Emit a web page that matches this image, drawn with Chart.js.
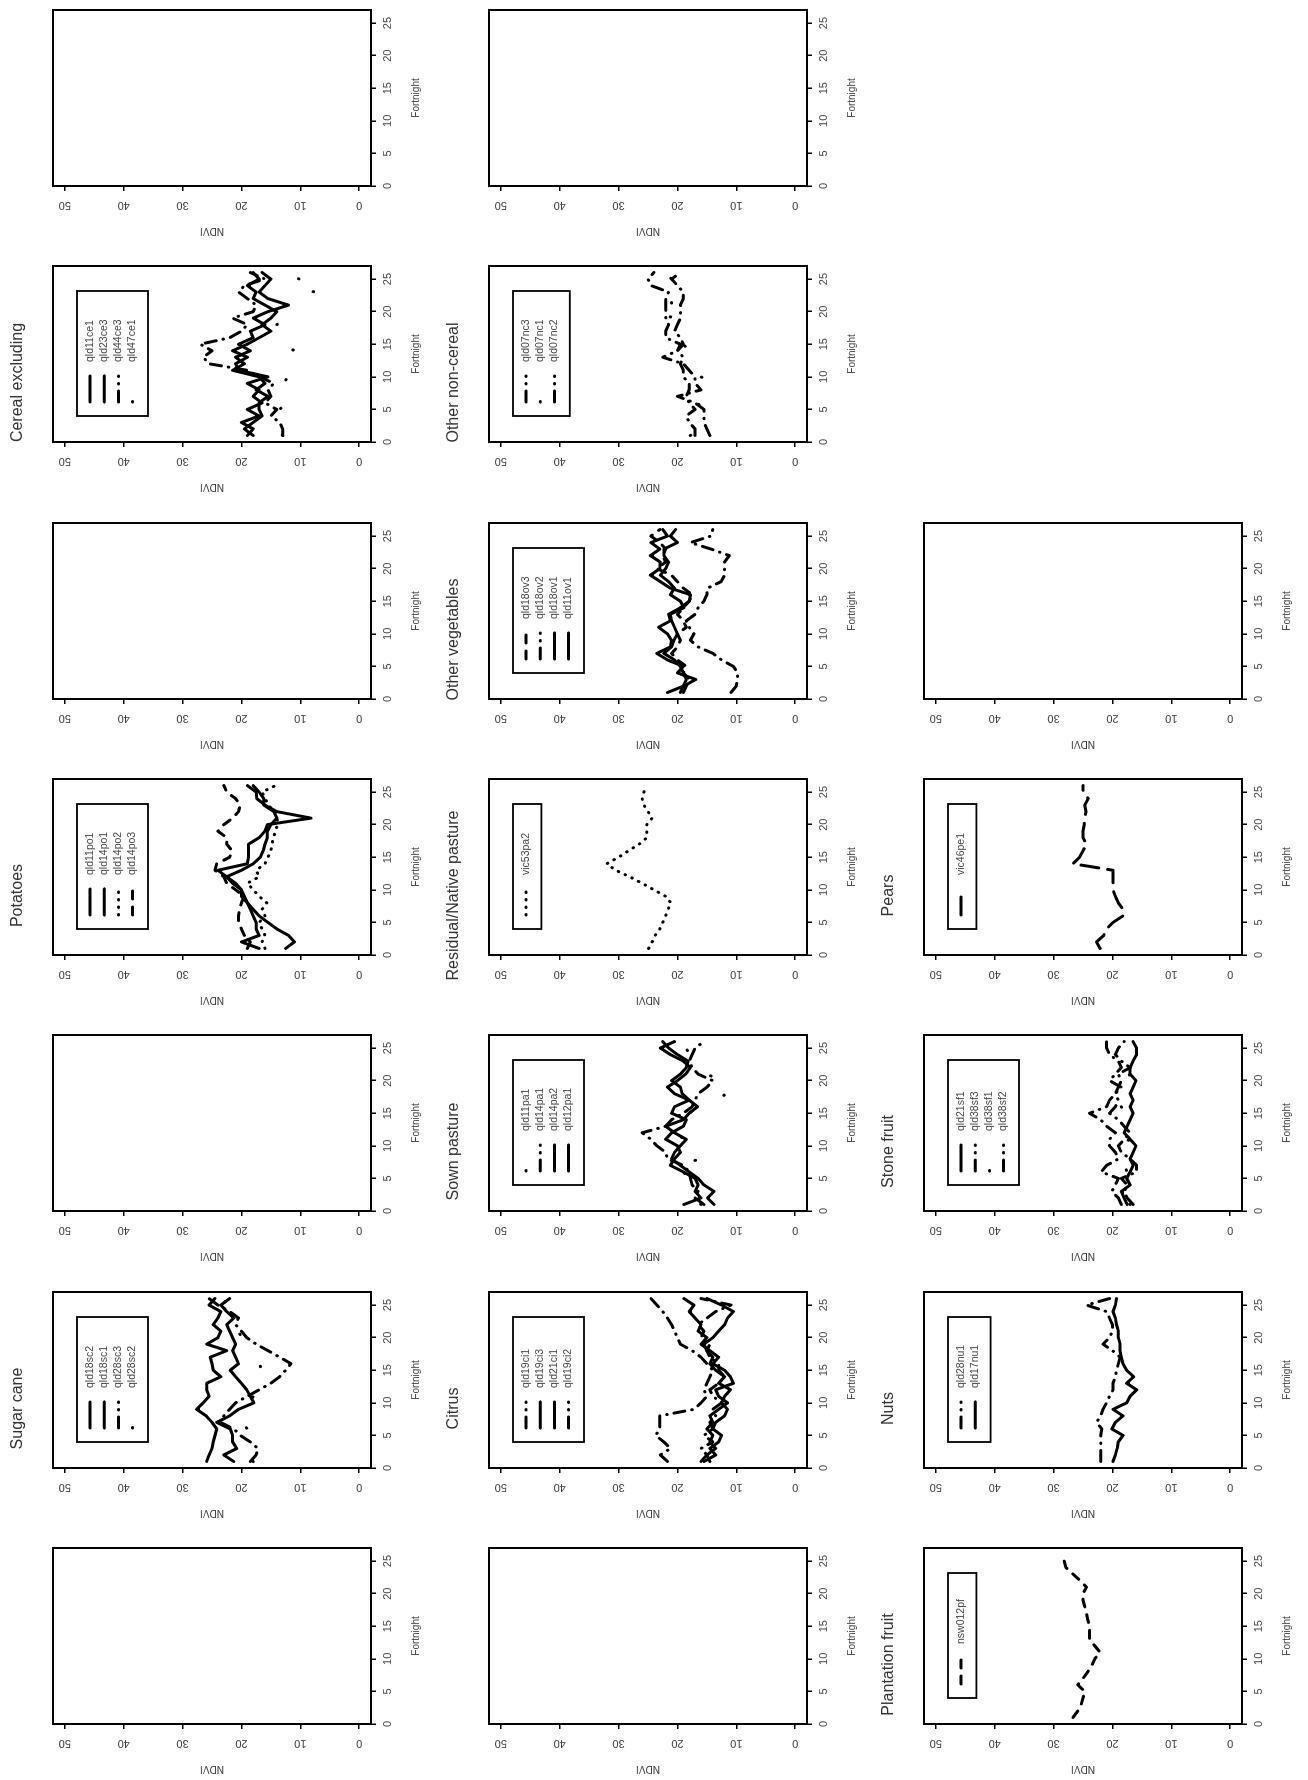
<!DOCTYPE html>
<html>
<head>
<meta charset="utf-8">
<script src="https://cdn.jsdelivr.net/npm/chart.js"></script>
<style>
html,body{margin:0;padding:0;background:#fff;overflow:hidden;width:1308px;height:1780px;}
#page{position:absolute;left:0;top:0;width:1780px;height:1308px;transform-origin:0 0;transform:translateY(1780px) rotate(-90deg);background:#fff;}
#page canvas{position:absolute;}
</style>
</head>
<body>
<div id="page"></div>
<script>
// ---------- data ----------
const fortnights = [1,2,3,4,5,6,7,8,9,10,11,12,13,14,15,16,17,18,19,20,21,22,23,24,25,26];
const fortnightTicks = [0,5,10,15,20,25];
const ndviTicks = [0,10,20,30,40,50];

// Sugar cane
const qld18sc2 = [25.9,25.5,25.0,24.8,24.5,24.2,25.0,26.0,27.6,26.5,25.5,25.9,25.9,23.5,24.8,25.0,25.3,22.5,25.9,24.0,23.5,24.8,24.0,23.5,25.5,24.5];
const qld18sc1 = [21.3,23.0,20.8,21.5,21.5,21.9,24.2,22.0,20.5,17.9,18.5,19.1,20.0,21.0,21.9,20.5,21.0,21.5,21.0,21.5,22.0,22.5,21.3,22.5,23.5,22.0];
const qld28sc3 = [18.5,17.5,17.2,18.5,20.2,21.3,23.6,23.0,22.0,21.0,19.0,17.0,15.0,13.5,12.5,11.6,13.5,15.5,17.5,19.1,20.0,21.0,20.5,22.0,24.0,25.5];
const qld28sc2 = [18.0,19.0,19.5,20.0,19.6,19.0,20.0,20.5,19.5,18.5,18.0,17.0,18.0,17.5,16.5,17.0,18.0,19.0,19.5,20.0,20.5,21.0,21.0,22.0,23.0,22.5];

// Potatoes
const qld11po1 = [12.5,11.0,12.0,14.0,15.5,17.0,18.0,19.0,20.0,20.0,21.5,22.5,24.0,19.0,18.8,18.8,18.8,17.0,16.0,15.6,8.2,14.0,16.0,17.4,17.5,19.0];
const qld14po1 = [17.0,20.0,17.0,17.5,17.5,18.0,18.5,19.0,19.5,20.0,21.0,22.5,20.0,18.0,16.8,16.3,16.0,15.6,15.6,15.0,14.0,14.5,16.2,16.2,17.0,18.0];
const qld14po2 = [16.0,16.5,16.0,16.5,17.0,16.0,16.5,15.7,17.0,18.0,19.0,17.0,17.5,16.0,15.5,15.0,14.8,14.6,14.2,13.9,13.9,14.5,15.4,16.0,16.5,14.2];
const qld14po3 = [19.0,18.5,19.5,20.0,20.5,20.5,20.3,20.0,19.5,21.0,22.5,23.0,24.5,24.2,22.0,21.6,22.5,22.5,24.0,23.0,21.5,20.5,20.2,21.0,22.5,23.0];

// Cereal excluding
const qld11ce1 = [19.0,18.0,20.0,17.0,19.0,16.5,18.0,17.0,19.0,15.5,20.5,21.0,19.0,21.5,19.0,17.0,15.0,16.5,15.0,14.0,16.0,18.0,17.5,19.0,17.0,18.0];
const qld23ce3 = [18.0,19.5,18.0,16.5,17.0,17.0,15.5,17.5,16.0,17.0,21.5,19.5,21.0,18.5,20.5,18.0,18.5,16.0,18.0,15.5,12.0,15.5,17.0,16.0,15.0,16.5];
const qld44ce3 = [13.0,13.0,13.5,15.0,14.0,16.0,15.0,15.5,14.5,17.0,19.0,25.5,26.5,25.0,27.0,22.0,20.0,19.0,21.5,18.0,17.5,19.0,20.5,19.5,16.0,18.5];
const qld47ce1 = [13.0,14.0,13.0,14.5,13.5,12.5,14.0,14.0,13.0,12.0,11.0,12.0,12.0,11.0,13.0,14.0,15.0,14.0,12.5,10.5,13.0,11.0,7.5,12.0,10.2,12.5];

// Citrus
const qld19ci1 = [21.7,22.9,21.2,22.3,23.7,23.0,23.0,23.0,17.2,16.0,15.0,15.5,15.0,14.5,14.0,15.0,16.0,17.5,19.5,20.0,20.5,21.0,21.7,22.5,23.5,24.5];
const qld19ci3 = [15.5,13.5,14.5,13.0,12.5,14.0,13.5,12.0,11.5,12.5,12.0,11.0,13.0,12.0,13.5,14.5,14.0,15.0,15.5,14.0,13.0,12.0,11.5,10.5,12.5,15.0];
const qld21ci1 = [14.5,15.0,13.5,14.5,14.0,15.0,14.0,14.5,13.0,11.5,13.0,13.5,10.5,11.0,12.0,14.0,13.0,14.5,16.0,15.0,16.5,16.0,17.0,18.0,17.2,18.9];
const qld19ci2 = [16.0,15.0,16.0,14.0,15.5,14.0,14.5,13.5,14.0,12.5,14.0,14.5,13.0,12.0,13.0,13.0,14.5,15.0,14.5,16.0,15.5,16.5,15.0,13.5,10.9,16.0];

// Sown pasture
const qld11pa1 = [16.0,17.0,18.0,17.5,18.0,19.0,20.9,15.8,16.5,16.9,19.0,20.0,21.0,19.0,18.0,16.5,13.0,11.8,14.0,12.6,15.0,17.5,17.8,18.0,18.5,19.0];
const qld14pa1 = [15.5,17.0,16.5,17.5,17.8,18.0,19.0,21.7,22.0,23.5,24.5,26.0,22.0,21.0,19.0,17.5,17.0,16.5,15.0,14.0,16.5,17.5,18.0,17.5,17.0,15.5];
const qld14pa2 = [18.9,16.0,17.0,16.5,17.0,19.0,21.2,20.5,19.5,20.0,22.0,21.0,19.0,18.5,21.0,20.5,18.0,20.5,21.7,20.0,18.6,17.8,19.0,21.2,22.9,20.5];
const qld12pa1 = [13.8,14.9,13.8,15.5,16.5,18.0,19.5,21.0,20.5,19.5,18.5,20.5,22.0,19.0,18.0,16.6,18.0,19.2,19.5,21.0,19.5,18.5,18.2,20.0,21.5,22.5];

// Residual/Native pasture
const vic53pa2 = [24.9,24.3,23.8,23.0,22.5,22.0,21.6,21.1,22.0,24.0,26.0,28.1,30.5,32.0,30.0,28.3,26.5,25.2,25.2,25.2,24.3,25.0,25.7,26.0,25.7,25.2];

// Other vegetables
const qld18ov3 = [19.0,18.5,18.0,19.0,18.5,20.0,21.0,20.0,19.5,20.0,18.5,19.0,20.0,19.0,18.0,17.5,19.0,20.0,21.0,23.5,22.0,22.5,22.0,23.0,24.5,23.0];
const qld18ov2 = [10.9,10.0,9.8,9.8,10.5,12.5,14.0,16.5,17.8,17.2,18.0,18.5,17.0,16.5,15.5,15.0,14.9,12.6,12.0,12.0,12.0,11.2,14.3,17.8,14.3,14.0];
const qld18ov1 = [21.7,18.9,16.9,20.0,19.0,21.7,23.5,21.2,21.0,21.7,23.2,21.2,21.5,19.5,18.0,17.8,21.2,22.9,24.6,23.0,22.9,24.6,23.0,24.5,21.7,22.5];
const qld11ov1 = [19.5,19.0,18.5,19.0,19.5,20.5,22.3,21.0,20.6,20.0,20.5,21.0,21.2,18.9,19.5,21.2,20.5,21.5,22.9,22.0,21.5,22.3,22.3,20.0,21.2,20.3];

// Other non-cereal
const qld07nc3 = [14.5,15.0,15.5,15.5,15.5,17.0,20.0,16.0,17.0,17.0,18.0,19.0,22.5,20.0,19.5,22.0,22.0,21.5,22.0,22.0,22.0,22.0,21.5,24.5,25.0,24.0];
const qld07nc1 = [17.8,16.0,16.0,16.5,16.0,16.5,16.5,16.0,14.3,16.0,17.0,16.6,17.0,18.0,19.0,19.0,18.5,19.0,20.5,24.0,21.0,21.0,21.0,19.0,21.0,22.0];
const qld07nc2 = [17.0,17.0,18.0,18.5,17.0,18.0,18.5,18.0,18.0,19.0,19.0,19.5,19.0,20.0,19.0,19.5,20.5,20.0,19.5,19.5,19.5,19.0,19.0,20.0,21.0,19.5];

// Plantation fruit
const nsw012pf = [26.7,25.9,25.3,25.0,24.7,25.9,25.0,24.2,23.5,23.0,22.1,23.0,23.9,23.9,23.9,24.2,24.4,24.7,25.0,25.0,24.4,25.5,26.7,27.9,28.2,28.7];

// Nuts
const qld28nu1 = [22.0,22.0,22.0,22.0,22.0,21.8,22.7,22.0,21.6,21.0,20.5,19.9,19.9,19.5,19.3,19.0,18.7,20.0,21.6,20.5,20.0,20.0,20.5,21.0,24.4,20.5];
const qld17nu1 = [19.9,19.5,19.2,19.0,18.2,20.1,19.5,18.2,19.9,17.6,17.0,15.9,17.6,16.4,17.6,18.2,18.5,18.7,18.7,19.0,19.0,19.3,19.5,19.9,19.5,19.3];

// Stone fruit
const qld21sf1 = [17.5,18.0,18.5,17.0,17.6,17.0,16.5,17.0,16.5,16.0,17.0,18.0,17.5,17.0,16.5,17.0,16.5,17.0,16.5,16.0,17.0,17.0,16.5,15.9,15.9,16.5];
const qld38sf3 = [18.5,19.0,20.1,19.5,19.0,21.9,21.0,19.0,19.5,20.5,20.5,19.5,21.0,22.0,23.9,21.0,20.5,19.5,18.5,20.5,19.5,18.5,19.0,20.5,21.0,21.0];
const qld38sf1 = [17.0,17.5,17.5,18.5,18.0,17.5,18.0,17.0,16.5,15.9,17.5,18.0,17.5,17.0,18.0,18.5,19.0,18.0,17.5,18.0,17.0,16.5,17.0,18.0,18.5,18.5];
const qld38sf2 = [16.5,17.5,18.0,17.5,18.5,15.9,15.9,17.0,18.5,19.0,18.0,17.0,18.0,19.0,20.5,19.5,19.0,19.5,19.0,18.5,19.0,17.0,18.5,19.5,19.0,18.0];

// Pears
const vic46pe1 = [22.1,22.7,21.5,21.0,19.9,18.2,18.2,19.0,19.5,19.9,19.9,19.9,19.9,26.7,25.6,25.0,24.4,25.0,25.0,24.8,24.7,24.5,24.7,24.1,25.0,25.0];

// ---------- layout of the page (original landscape orientation, 7 x 3) ----------
const panels = [
  {row:1,col:1,title:'',series:[]},
  {row:1,col:2,title:'Sugar cane',series:[['qld18sc2',qld18sc2,'solid'],['qld18sc1',qld18sc1,'solid'],['qld28sc3',qld28sc3,'dotdash'],['qld28sc2',qld28sc2,'sparse']]},
  {row:1,col:3,title:'',series:[]},
  {row:1,col:4,title:'Potatoes',series:[['qld11po1',qld11po1,'solid'],['qld14po1',qld14po1,'solid'],['qld14po2',qld14po2,'dotted'],['qld14po3',qld14po3,'dashed']]},
  {row:1,col:5,title:'',series:[]},
  {row:1,col:6,title:'Cereal excluding',series:[['qld11ce1',qld11ce1,'solid'],['qld23ce3',qld23ce3,'solid'],['qld44ce3',qld44ce3,'dotdash'],['qld47ce1',qld47ce1,'sparse']]},
  {row:1,col:7,title:'',series:[]},
  {row:2,col:1,title:'',series:[]},
  {row:2,col:2,title:'Citrus',series:[['qld19ci1',qld19ci1,'dotdash'],['qld19ci3',qld19ci3,'solid'],['qld21ci1',qld21ci1,'solid'],['qld19ci2',qld19ci2,'dotdash']]},
  {row:2,col:3,title:'Sown pasture',series:[['qld11pa1',qld11pa1,'sparse'],['qld14pa1',qld14pa1,'dotdash'],['qld14pa2',qld14pa2,'solid'],['qld12pa1',qld12pa1,'solid']]},
  {row:2,col:4,title:'Residual/Native pasture',series:[['vic53pa2',vic53pa2,'dotted']]},
  {row:2,col:5,title:'Other vegetables',series:[['qld18ov3',qld18ov3,'dashed'],['qld18ov2',qld18ov2,'dotdash'],['qld18ov1',qld18ov1,'solid'],['qld11ov1',qld11ov1,'solid']]},
  {row:2,col:6,title:'Other non-cereal',series:[['qld07nc3',qld07nc3,'dotdash'],['qld07nc1',qld07nc1,'sparse'],['qld07nc2',qld07nc2,'dotdash']]},
  {row:2,col:7,title:'',series:[]},
  {row:3,col:1,title:'Plantation fruit',series:[['nsw012pf',nsw012pf,'dashed']]},
  {row:3,col:2,title:'Nuts',series:[['qld28nu1',qld28nu1,'dotdash'],['qld17nu1',qld17nu1,'solid']]},
  {row:3,col:3,title:'Stone fruit',series:[['qld21sf1',qld21sf1,'solid'],['qld38sf3',qld38sf3,'dotdash'],['qld38sf1',qld38sf1,'sparse'],['qld38sf2',qld38sf2,'dotdash']]},
  {row:3,col:4,title:'Pears',series:[['vic46pe1',vic46pe1,'longdash']]},
  {row:3,col:5,title:'',series:[]}
];

const dashStyles = {solid:[], dashed:[8,8], dotted:[0.5,7], dotdash:[11,7,0.5,7], sparse:[0.5,38], longdash:[18,9]};

const FONT = '"Liberation Sans", Arial, Helvetica, sans-serif';
Chart.defaults.font.family = FONT;

const boxPlugin = {
  id: 'rbox',
  afterDraw(chart) {
    const a = chart.chartArea, ctx = chart.ctx;
    ctx.save();
    ctx.lineWidth = 2; ctx.strokeStyle = '#000'; ctx.setLineDash([]);
    ctx.strokeRect(a.left, a.top, a.right - a.left, a.bottom - a.top);
    ctx.restore();
  }
};

const legendPlugin = {
  id: 'rlegend',
  afterDatasetsDraw(chart) {
    const ds = chart.data.datasets;
    if (!ds.length) return;
    const ctx = chart.ctx, a = chart.chartArea;
    const n = ds.length;
    const bx = a.left + 26, by = a.top + 24, bw = 125, bh = 14.2 * (n + 1);
    ctx.save();
    ctx.setLineDash([]);
    ctx.lineWidth = 1.8; ctx.strokeStyle = '#000';
    ctx.strokeRect(bx, by, bw, bh);
    ds.forEach((d, i) => {
      const y = by + 13 + 14.2 * i;
      ctx.beginPath();
      ctx.setLineDash(d.borderDash || []);
      ctx.lineCap = 'round';
      ctx.lineWidth = d.borderWidth;
      ctx.strokeStyle = '#000';
      ctx.moveTo(a.left + 40, y); ctx.lineTo(a.left + 66, y);
      ctx.stroke();
      ctx.setLineDash([]);
      ctx.fillStyle = '#444';
      ctx.font = '10.5px ' + FONT;
      ctx.textBaseline = 'middle'; ctx.textAlign = 'left';
      ctx.fillText(d.label, a.left + 80, y);
    });
    ctx.restore();
  }
};

const page = document.getElementById('page');
const PLOT_LEFT0 = 56, COL_PITCH = 256.3, PLOT_TOP0 = 53, ROW_PITCH = 435.5;
const CW = 256, CH = 436;

panels.forEach(p => {
  const plotLeft = PLOT_LEFT0 + COL_PITCH * (p.col - 1);
  const plotTop = PLOT_TOP0 + ROW_PITCH * (p.row - 1);
  const cv = document.createElement('canvas');
  cv.width = CW; cv.height = CH;
  cv.style.width = CW + 'px'; cv.style.height = CH + 'px';
  cv.style.left = (plotLeft - 57) + 'px';
  cv.style.top = (plotTop - 53) + 'px';
  page.appendChild(cv);

  const gridOpts = {display:true, drawOnChartArea:false, drawTicks:true, tickLength:5, color:'#000', lineWidth:1.5};
  new Chart(cv, {
    type: 'line',
    data: {
      datasets: p.series.map(([label, vals, style]) => ({
        label: label,
        data: fortnights.map((f, i) => ({x: f, y: vals[i]})),
        borderColor: '#000',
        borderWidth: 3,
        borderDash: dashStyles[style],
        borderCapStyle: 'round',
        borderJoinStyle: 'round',
        pointRadius: 0,
        fill: false,
        tension: 0
      }))
    },
    options: {
      responsive: false,
      animation: false,
      devicePixelRatio: 1,
      layout: {padding: {top: 8.4, right: 23, bottom: 0, left: 0}},
      plugins: {
        legend: {display: false},
        tooltip: {enabled: false},
        title: {display: true, text: p.title, color: '#333', font: {size: 16, weight: 'normal'}, padding: {top: 0, bottom: 25.4}}
      },
      scales: {
        x: {
          type: 'linear', position: 'bottom', min: 0, max: 27,
          afterBuildTicks: s => { s.ticks = fortnightTicks.map(v => ({value: v})); },
          afterFit: s => { s.height = 65; },
          ticks: {font: {size: 11}, color: '#444', padding: 5, minRotation: 0, maxRotation: 0, autoSkip: false},
          grid: gridOpts,
          border: {display: false},
          title: {display: true, text: 'Fortnight', color: '#444', font: {size: 10}, padding: {top: 0, bottom: 14}}
        },
        y: {
          type: 'linear', position: 'left', min: -2, max: 52,
          afterBuildTicks: s => { s.ticks = ndviTicks.map(v => ({value: v})); },
          afterFit: s => { s.width = 57; },
          ticks: {font: {size: 11}, color: '#444', padding: 8, minRotation: 90, maxRotation: 90, crossAlign: 'center', autoSkip: false},
          grid: gridOpts,
          border: {display: false},
          title: {display: true, text: 'NDVI', color: '#444', font: {size: 10}, padding: {top: 6, bottom: 0}}
        }
      }
    },
    plugins: [boxPlugin, legendPlugin]
  });
});
</script>
</body>
</html>
